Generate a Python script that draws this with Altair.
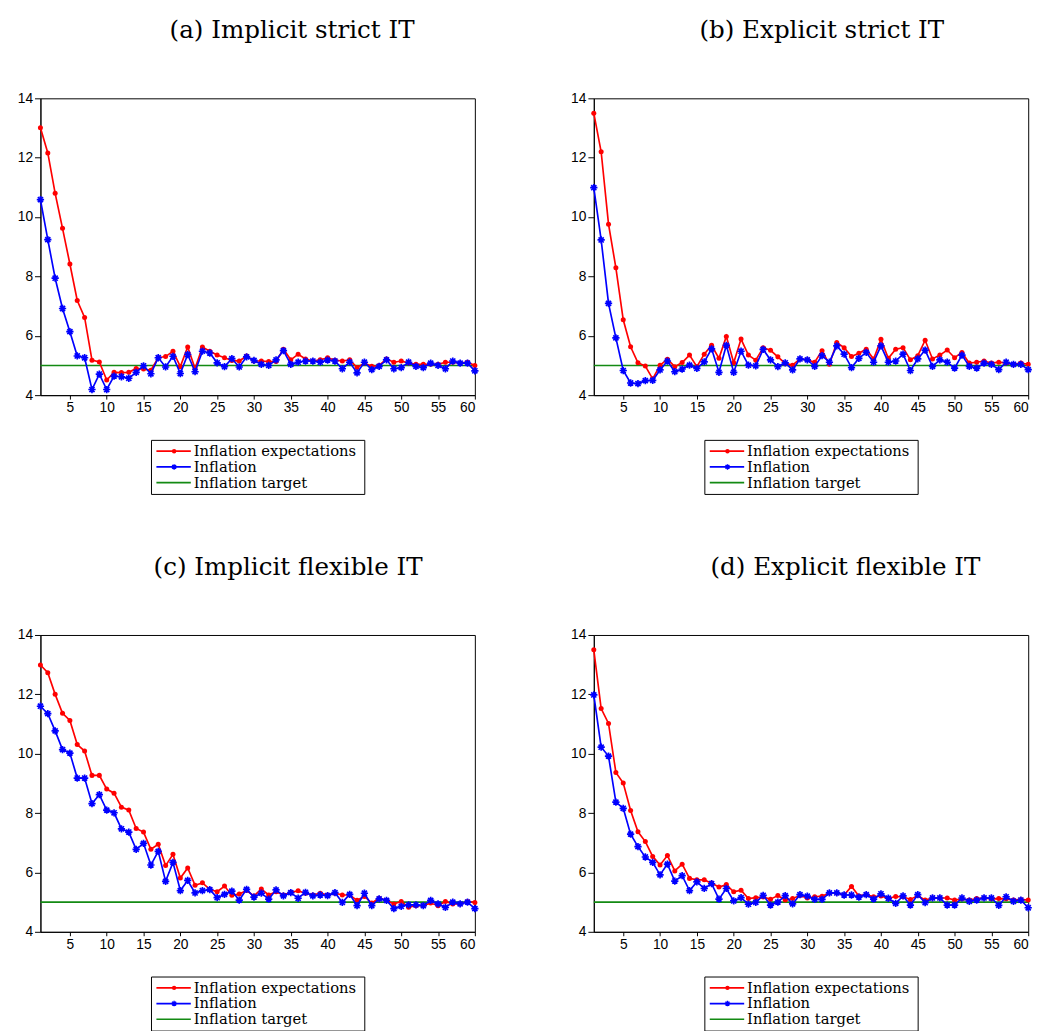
import altair as alt
import pandas as pd

T = list(range(1, 61))
X_TICKS = [5, 10, 15, 20, 25, 30, 35, 40, 45, 50, 55, 60]
Y_TICKS = [4, 6, 8, 10, 12, 14]
TARGET = 5.0
LEGEND_LABELS = ["Inflation expectations", "Inflation", "Inflation target"]
TITLES = ["(a) Implicit strict IT", "(b) Explicit strict IT",
          "(c) Implicit flexible IT", "(d) Explicit flexible IT"]

A_EXP = [13.01, 12.16, 10.80, 9.62, 8.42, 7.19, 6.62, 5.18, 5.12, 4.51,
         4.77, 4.76, 4.77, 4.90, 4.88, 4.84, 5.26, 5.30, 5.48, 4.96,
         5.62, 4.90, 5.62, 5.48, 5.35, 5.26, 5.17, 5.15, 5.32, 5.15,
         5.15, 5.13, 5.13, 5.55, 5.19, 5.38, 5.22, 5.15, 5.19, 5.26,
         5.18, 5.15, 5.19, 4.93, 5.08, 4.97, 5.00, 5.22, 5.11, 5.15,
         5.08, 5.04, 5.04, 5.04, 5.04, 5.11, 5.11, 5.08, 5.11, 5.00]
A_INF = [10.59, 9.24, 7.94, 6.92, 6.14, 5.32, 5.26, 4.19, 4.71, 4.19,
         4.64, 4.62, 4.57, 4.77, 4.99, 4.72, 5.26, 4.95, 5.31, 4.73,
         5.37, 4.79, 5.48, 5.42, 5.09, 4.96, 5.23, 4.95, 5.29, 5.17,
         5.04, 5.00, 5.19, 5.50, 5.04, 5.11, 5.15, 5.15, 5.11, 5.18,
         5.15, 4.89, 5.11, 4.75, 5.11, 4.86, 4.97, 5.19, 4.89, 4.93,
         5.11, 4.97, 4.93, 5.08, 5.00, 4.89, 5.15, 5.08, 5.08, 4.82]

B_EXP = [13.50, 12.20, 9.76, 8.29, 6.54, 5.63, 5.09, 4.98, 4.55, 5.01,
         5.21, 4.96, 5.10, 5.35, 4.96, 5.38, 5.68, 5.24, 5.98, 5.09,
         5.89, 5.35, 5.18, 5.60, 5.51, 5.29, 5.07, 5.01, 5.22, 5.19,
         5.11, 5.50, 5.04, 5.77, 5.60, 5.30, 5.41, 5.55, 5.22, 5.88,
         5.24, 5.55, 5.60, 5.19, 5.33, 5.85, 5.22, 5.35, 5.52, 5.26,
         5.44, 5.08, 5.11, 5.15, 5.08, 5.11, 5.08, 5.04, 5.08, 5.04]
B_INF = [10.99, 9.23, 7.09, 5.93, 4.83, 4.41, 4.39, 4.49, 4.50, 4.85,
         5.15, 4.79, 4.88, 5.01, 4.90, 5.12, 5.56, 4.77, 5.68, 4.77,
         5.48, 5.01, 4.99, 5.54, 5.19, 4.96, 5.09, 4.85, 5.22, 5.19,
         4.97, 5.33, 5.11, 5.66, 5.38, 4.93, 5.24, 5.44, 5.11, 5.66,
         5.11, 5.15, 5.38, 4.83, 5.22, 5.52, 4.97, 5.19, 5.11, 4.91,
         5.35, 4.97, 4.91, 5.08, 5.04, 4.86, 5.11, 5.04, 5.04, 4.86]

C_EXP = [12.99, 12.73, 12.00, 11.36, 11.12, 10.31, 10.09, 9.27, 9.27, 8.81,
         8.67, 8.20, 8.10, 7.48, 7.36, 6.78, 6.95, 6.23, 6.61, 5.81,
         6.15, 5.57, 5.65, 5.43, 5.35, 5.54, 5.23, 5.27, 5.39, 5.21,
         5.44, 5.24, 5.35, 5.24, 5.33, 5.38, 5.30, 5.24, 5.30, 5.24,
         5.30, 5.24, 5.24, 5.06, 5.19, 4.97, 5.13, 5.06, 4.94, 5.02,
         4.83, 4.88, 4.88, 4.97, 4.88, 5.02, 4.94, 4.94, 5.02, 4.99]
C_INF = [11.60, 11.35, 10.77, 10.14, 10.02, 9.18, 9.18, 8.32, 8.62, 8.10,
         8.01, 7.47, 7.36, 6.78, 6.98, 6.25, 6.71, 5.70, 6.34, 5.39,
         5.73, 5.31, 5.39, 5.42, 5.15, 5.26, 5.37, 5.07, 5.43, 5.17,
         5.30, 5.10, 5.41, 5.21, 5.32, 5.13, 5.33, 5.21, 5.24, 5.22,
         5.32, 4.99, 5.26, 4.88, 5.30, 4.88, 5.11, 5.06, 4.78, 4.86,
         4.91, 4.91, 4.88, 5.06, 4.94, 4.82, 5.00, 4.94, 5.00, 4.78]

D_EXP = [13.50, 11.52, 11.02, 9.37, 9.01, 8.09, 7.37, 7.04, 6.54, 6.25,
         6.57, 6.05, 6.28, 5.80, 5.75, 5.75, 5.64, 5.51, 5.59, 5.35,
         5.40, 5.12, 5.15, 5.17, 5.10, 5.22, 5.07, 5.12, 5.22, 5.14,
         5.18, 5.20, 5.31, 5.31, 5.24, 5.53, 5.21, 5.25, 5.18, 5.21,
         5.13, 5.19, 5.18, 5.09, 5.22, 5.07, 5.14, 5.14, 5.14, 5.07,
         5.11, 5.07, 5.12, 5.14, 5.11, 5.12, 5.11, 5.07, 5.09, 5.07]
D_INF = [11.98, 10.22, 9.92, 8.37, 8.16, 7.29, 6.87, 6.52, 6.34, 5.92,
         6.28, 5.71, 5.89, 5.39, 5.68, 5.46, 5.62, 5.10, 5.46, 5.04,
         5.15, 4.93, 4.99, 5.23, 4.90, 5.00, 5.22, 4.94, 5.25, 5.20,
         5.09, 5.09, 5.31, 5.31, 5.24, 5.24, 5.17, 5.25, 5.10, 5.28,
         5.13, 4.96, 5.21, 4.90, 5.25, 4.98, 5.14, 5.14, 4.90, 4.90,
         5.14, 5.03, 5.07, 5.14, 5.14, 4.89, 5.18, 5.03, 5.07, 4.81]

RED = "#ff0000"
BLUE = "#0000ff"
GREEN = "#138a13"
ASTERISK = "M-1,0L1,0M0,-1L0,1M-0.7,-0.7L0.7,0.7M-0.7,0.7L0.7,-0.7"
SERIF = "DejaVu Serif"
PW, PH = 442, 302
LEG_H = 160  # legend block incl. gap down to the next panel


def plot(exp, inf, title, dx):
    df = pd.DataFrame({"t": T, "exp": exp, "inf": inf})
    xs = alt.X("t:Q", scale=alt.Scale(domain=[1, 60], nice=False, zero=False),
               axis=alt.Axis(values=X_TICKS, title=None, grid=False, tickSize=4))
    ys = alt.Scale(domain=[4, 14], nice=False, zero=False)
    yax = alt.Axis(values=Y_TICKS, title=None, grid=False, tickSize=6)
    base = alt.Chart(df)
    target = alt.Chart(pd.DataFrame({"v": [TARGET]})).mark_rule(
        color=GREEN, strokeWidth=1.7).encode(y=alt.Y("v:Q", scale=ys, axis=yax))
    el = base.mark_line(color=RED, strokeWidth=1.7).encode(
        x=xs, y=alt.Y("exp:Q", scale=ys, axis=yax))
    ep = base.mark_point(color=RED, filled=True, shape="circle", size=26, opacity=1).encode(
        x=xs, y=alt.Y("exp:Q", scale=ys, axis=yax))
    il = base.mark_line(color=BLUE, strokeWidth=1.7).encode(
        x=xs, y=alt.Y("inf:Q", scale=ys, axis=yax))
    ip = base.mark_point(color=BLUE, filled=False, shape=ASTERISK, size=55,
                         strokeWidth=1.7, opacity=1).encode(
        x=xs, y=alt.Y("inf:Q", scale=ys, axis=yax))
    return alt.layer(target, el, ep, il, ip).properties(
        width=PW, height=PH,
        title=alt.TitleParams(title, font=SERIF, fontSize=25, fontWeight="normal",
                              color="black", offset=49, dx=dx, anchor="middle"))


def legend():
    ldf = pd.DataFrame({"name": LEGEND_LABELS})
    ly = alt.Y("name:N", sort=LEGEND_LABELS,
               scale=alt.Scale(type="point", range=[15, 47], padding=0), axis=None)
    lc = alt.Color("name:N", scale=alt.Scale(domain=LEGEND_LABELS, range=[RED, BLUE, GREEN]),
                   legend=None)
    lbase = alt.Chart(ldf)
    box = alt.Chart(pd.DataFrame({"b": [0]})).mark_rect(
        fillOpacity=0, stroke="black", strokeWidth=1).encode(
        x=alt.value(113), x2=alt.value(330), y=alt.value(4), y2=alt.value(59))
    lrule = lbase.mark_rule(strokeWidth=1.7).encode(
        x=alt.value(118), x2=alt.value(153), y=ly, color=lc)
    lpe = lbase.transform_filter(alt.datum.name == LEGEND_LABELS[0]).mark_point(
        filled=True, shape="circle", size=20, color=RED, opacity=1).encode(
        x=alt.value(136), y=ly)
    lpi = lbase.transform_filter(alt.datum.name == LEGEND_LABELS[1]).mark_point(
        filled=False, shape=ASTERISK, size=32, strokeWidth=1.4, color=BLUE, opacity=1).encode(
        x=alt.value(136), y=ly)
    ltext = lbase.mark_text(align="left", baseline="middle", font=SERIF,
                            fontSize=15, color="black").encode(
        x=alt.value(156), y=ly, text="name:N")
    return alt.layer(box, lrule, lpe, lpi, ltext).properties(
        width=PW, height=LEG_H, view=alt.ViewBackground(strokeOpacity=0))


col1 = alt.vconcat(plot(A_EXP, A_INF, TITLES[0], 35), legend(),
                   plot(C_EXP, C_INF, TITLES[2], 31), legend(),
                   spacing=42, bounds="flush")
col2 = alt.vconcat(plot(B_EXP, B_INF, TITLES[1], 11), legend(),
                   plot(D_EXP, D_INF, TITLES[3], 35), legend(),
                   spacing=42, bounds="flush")

chart = alt.hconcat(col1, col2, spacing=88).properties(
    padding={"left": 8, "top": 0, "right": 5, "bottom": 5}
).configure_view(stroke="black", strokeWidth=1).configure_axis(
    labelFont="Liberation Sans", labelFontSize=14, labelColor="black",
    tickColor="black", domainColor="black", domainWidth=1, tickWidth=1, labelPadding=2
)

chart.save("out.html", embed_options={"renderer": "svg", "actions": False})
